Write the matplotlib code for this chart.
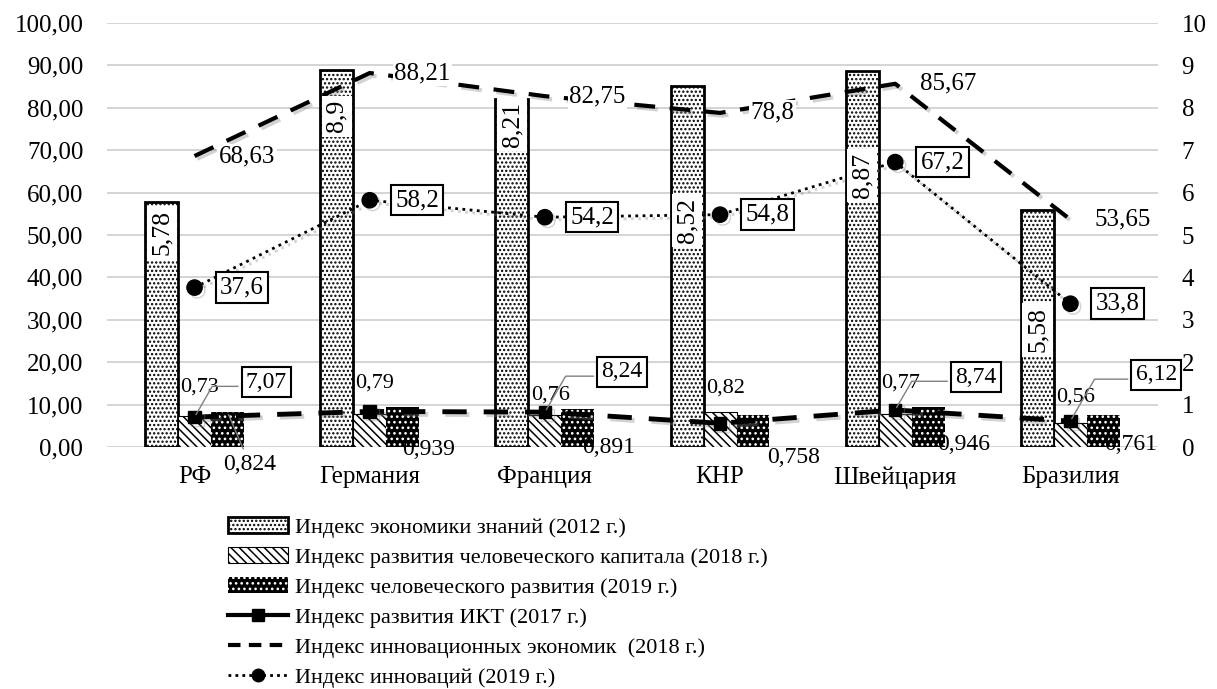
import numpy as np
import matplotlib.pyplot as plt
import matplotlib.patheffects as pe
from matplotlib.lines import Line2D

plt.rcParams['font.family'] = ['Liberation Serif', 'DejaVu Serif']
plt.rcParams['hatch.linewidth'] = 1.1

# data
countries = ['РФ', 'Германия', 'Франция', 'КНР', 'Швейцария', 'Бразилия']
kei_2012 = [5.78, 8.90, 8.21, 8.52, 8.87, 5.58]            # right axis
hci_2018 = [0.73, 0.79, 0.76, 0.82, 0.77, 0.56]            # right axis
hdi_2019 = [0.824, 0.939, 0.891, 0.758, 0.946, 0.761]      # right axis
ict_2017 = [7.07, 8.39, 8.24, 5.60, 8.74, 6.12]            # left axis
econ_2018 = [68.63, 88.21, 82.75, 78.8, 85.67, 53.65]      # left axis
gii_2019 = [37.6, 58.2, 54.2, 54.8, 67.2, 33.8]            # left axis

legend_names = ['Индекс экономики знаний (2012 г.)',
                'Индекс развития человеческого капитала (2018 г.)',
                'Индекс человеческого развития (2019 г.)',
                'Индекс развития ИКТ (2017 г.)',
                'Индекс инновационных экономик  (2018 г.)',
                'Индекс инноваций (2019 г.)']

# label placement (hand-placed in the original)
kei_lab_y = [5.05, 7.8, 7.6, 5.35, 6.4, 2.76]
hci_lab_y = [1.41, 1.51, 1.23, 1.39, 1.51, 1.18]
hdi_lab_xy = [(0.317, -0.42), (1.334, -0.07), (2.363, 0.0), (3.42, -0.24), (4.39, 0.05), (5.346, 0.05)]
ict_lab_xy = [(0.41, 15.3), None, (2.44, 17.7), None, (4.46, 16.5), (5.49, 17.0)]


def fmt(v):
    return f"{v:g}".replace('.', ',')


x = np.arange(len(countries))
w = 0.188

fig = plt.figure(figsize=(12.17, 6.89), dpi=100)
ax = fig.add_axes([0.0879, 0.3512, 0.8636, 0.6154])
ax2 = ax.twinx()
ax.set_zorder(2)
ax2.set_zorder(1)
ax.patch.set_visible(False)

# bars on the right (0-10) axis
b1 = ax2.bar(x - w, kei_2012, w, facecolor='white', edgecolor='black', hatch='....', lw=2)
b2 = ax2.bar(x, hci_2018, w, facecolor='white', edgecolor='black', hatch='\\\\\\\\', lw=0.8)
b3 = ax2.bar(x + w, hdi_2019, w, facecolor='black', edgecolor='white', hatch='...', lw=0)

ax2.set_ylim(0, 10)
ax2.set_yticks(range(0, 11))
ax2.yaxis.grid(True, color='#d4d4d4', lw=1.4)
ax2.set_axisbelow(True)

shadow = [pe.SimpleLineShadow(offset=(2, -2), shadow_color='gray', alpha=0.35), pe.Normal()]

ax.plot(x, econ_2018, color='black', lw=3, ls=(0, (5, 3.5)), path_effects=shadow)
ax.plot(x, ict_2017, color='black', lw=3.5, ls=(0, (5, 3.5)), marker='s', ms=9, path_effects=shadow)
ax.plot(x, gii_2019, color='black', lw=2, ls=(0, (1, 1.6)), marker='o', ms=11, path_effects=shadow)

ax.set_ylim(0, 100)
ax.set_xlim(-0.5, 5.5)
ax.set_yticks(range(0, 101, 10))
ax.set_yticklabels([f"{v:.2f}".replace('.', ',') for v in range(0, 101, 10)])
ax2.set_yticklabels([str(v) for v in range(0, 11)])
ax.set_xticks(x, countries)

for a in (ax, ax2):
    for s in a.spines.values():
        s.set_visible(False)
    a.tick_params(length=0, labelsize=18)
ax.tick_params(axis='y', pad=17)
ax2.tick_params(axis='y', pad=17)
ax.tick_params(axis='x', pad=14)

# labels
for i in range(len(countries)):
    ax.text(x[i] - w, kei_lab_y[i], fmt(kei_2012[i]), transform=ax2.transData, rotation=90,
            ha='center', va='center', fontsize=18.5,
            bbox=dict(facecolor='white', edgecolor='none', pad=3))
    ax.text(x[i] + 0.3, econ_2018[i], fmt(econ_2018[i]), ha='center', va='center', fontsize=18,
            bbox=dict(facecolor='white', edgecolor='none', pad=1))
    ax.text(x[i] + 0.27, gii_2019[i], fmt(gii_2019[i]), ha='center', va='center', fontsize=18,
            bbox=dict(facecolor='white', edgecolor='black', lw=1.5, pad=3))
    ax.text(x[i] + 0.03, hci_lab_y[i], fmt(hci_2018[i]), transform=ax2.transData,
            ha='center', va='center', fontsize=16)
    hx, hy = hdi_lab_xy[i]
    if i == 0:
        ax.annotate(fmt(hdi_2019[i]), xy=(x[i] + w, hdi_2019[i]), xycoords=ax2.transData,
                    xytext=(hx, hy), textcoords=ax2.transData, ha='center', va='center',
                    fontsize=17, arrowprops=dict(arrowstyle='-', color='gray', lw=1))
    else:
        ax.text(hx, hy, fmt(hdi_2019[i]), transform=ax2.transData, ha='center', va='center',
                fontsize=17)
    if ict_lab_xy[i] is not None:
        ax.annotate(fmt(ict_2017[i]), xy=(x[i], ict_2017[i]), xytext=ict_lab_xy[i],
                    ha='center', va='center', fontsize=17,
                    bbox=dict(facecolor='white', edgecolor='black', lw=1.5, pad=3),
                    arrowprops=dict(arrowstyle='-', color='gray', lw=1, relpos=(0, 0.3),
                                    connectionstyle='angle,angleA=0,angleB=60,rad=0'))

handles = [b1, b2, b3,
           Line2D([], [], color='black', lw=3, marker='s', ms=9),
           Line2D([], [], color='black', lw=3, ls=(0, (3, 2))),
           Line2D([], [], color='black', lw=2, ls=(0, (1, 1.5)), marker='o', ms=9)]
fig.legend(handles, legend_names, loc='upper left', bbox_to_anchor=(228 / 1217, 1 - 517 / 689),
           frameon=False, fontsize=16, handlelength=2.7, handleheight=0.7, labelspacing=0.43,
           handletextpad=0.3, borderaxespad=0, borderpad=0)

fig.savefig('out.png', dpi=100, facecolor='white')
